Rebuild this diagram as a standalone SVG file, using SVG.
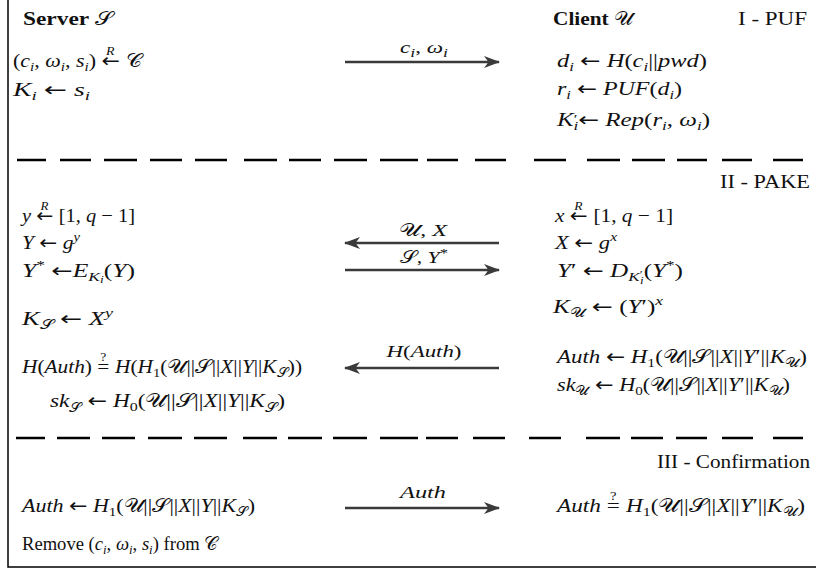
<svg xmlns="http://www.w3.org/2000/svg" width="816" height="572" viewBox="0 0 816 572">
<style>
.t{font-family:"Liberation Serif","DejaVu Serif",serif;font-size:19px;fill:#111}
.lb{font-family:"Liberation Serif","DejaVu Serif",serif;font-size:17px;fill:#111}
.i{font-style:italic}
.b{font-weight:bold}
.s{font-size:13px}
.ss{font-size:10px}
.sm{font-size:12px}
.c{font-family:"DejaVu Sans","Liberation Serif",serif;font-style:normal}
.ar{font-family:"DejaVu Sans",sans-serif;font-style:normal}
.dash{stroke:#000;stroke-width:2.5;fill:none}
.border{stroke:#000;stroke-width:1.5;fill:none}
.arr{stroke:#3a3a3a;stroke-width:2.5;fill:none}
.head{fill:#3a3a3a}
</style>
<defs>
<marker id="ah" viewBox="0 0 16 13" refX="15" refY="6.5" markerWidth="16" markerHeight="13" markerUnits="userSpaceOnUse" orient="auto-start-reverse">
<path class="head" d="M0,0.5 L16,6.5 L0,12.5 L4.5,6.5 Z"/>
</marker>
</defs>
<rect width="816" height="572" fill="#fff"/>
<g id="frame">
<path class="border" d="M8,0 V567 H816"/>
</g>
<g id="separators">
<path class="dash" d="M17,160H46M60,160H91M104,160H137M150,160H182M195,160H227M244,160H277M289,160H321M334,160H367M380,160H418M427,160H458M475,160H506M534,160H566M587,160H620M632,160H665M677,160H707M722,160H752M773,160H803"/>
<path class="dash" d="M16,438H45M57,438H90M102,438H135M148,438H182M194,438H227M243,438H277M288,438H322M333,438H367M380,438H418M426,438H458M473,438H505M529,438H561M586,438H620M631,438H663M676,438H707M722,438H753M773,438H803"/>
</g>
<g id="headers">
<text class="t b" x="23" y="25" textLength="90" lengthAdjust="spacingAndGlyphs">Server <tspan class="c i" font-weight="normal">𝒮</tspan></text>
<text class="t b" x="553" y="25" textLength="80" lengthAdjust="spacingAndGlyphs">Client <tspan class="c i" font-weight="normal">𝒰</tspan></text>
<text class="t" x="807" y="25" text-anchor="end" textLength="69" lengthAdjust="spacingAndGlyphs">I - PUF</text>
<text class="t" x="810" y="188" text-anchor="end" textLength="90" lengthAdjust="spacingAndGlyphs">II - PAKE</text>
<text class="t" x="810" y="468" text-anchor="end" textLength="153" lengthAdjust="spacingAndGlyphs">III - Confirmation</text>
</g>
<g id="server-puf">
<text class="t" x="13" y="67" textLength="129" lengthAdjust="spacingAndGlyphs">(<tspan class="i">c</tspan><tspan class="s i" dy="4">i</tspan><tspan dy="-4">, </tspan><tspan class="i">ω</tspan><tspan class="s i" dy="4">i</tspan><tspan dy="-4">, </tspan><tspan class="i">s</tspan><tspan class="s i" dy="4">i</tspan><tspan dy="-4">) </tspan><tspan class="ar">←</tspan><tspan class="sm i" dx="-12" dy="-12">R</tspan><tspan dx="5" dy="12"> </tspan><tspan class="c">𝒞</tspan></text>
<text class="t" x="13" y="96" textLength="77" lengthAdjust="spacingAndGlyphs"><tspan class="i">K</tspan><tspan class="s i" dy="4">i</tspan><tspan dy="-4"> </tspan><tspan class="ar">←</tspan> <tspan class="i">s</tspan><tspan class="s i" dy="4">i</tspan></text>
</g>
<g id="client-puf">
<text class="t" x="557" y="67" textLength="150" lengthAdjust="spacingAndGlyphs"><tspan class="i">d</tspan><tspan class="s i" dy="4">i</tspan><tspan dy="-4"> </tspan><tspan class="ar">←</tspan> <tspan class="i">H</tspan>(<tspan class="i">c</tspan><tspan class="s i" dy="4">i</tspan><tspan dy="-4">||</tspan><tspan class="i">pwd</tspan>)</text>
<text class="t" x="557" y="95" textLength="125" lengthAdjust="spacingAndGlyphs"><tspan class="i">r</tspan><tspan class="s i" dy="4">i</tspan><tspan dy="-4"> </tspan><tspan class="ar">←</tspan> <tspan class="i">PUF</tspan>(<tspan class="i">d</tspan><tspan class="s i" dy="4">i</tspan><tspan dy="-4">)</tspan></text>
<text class="t" x="557" y="126" textLength="153" lengthAdjust="spacingAndGlyphs"><tspan class="i">K</tspan><tspan class="s" dy="-3">′</tspan><tspan class="s i" dx="-3" dy="7">i</tspan><tspan class="ar" dy="-4">←</tspan> <tspan class="i">Rep</tspan>(<tspan class="i">r</tspan><tspan class="s i" dy="4">i</tspan><tspan dy="-4">, </tspan><tspan class="i">ω</tspan><tspan class="s i" dy="4">i</tspan><tspan dy="-4">)</tspan></text>
</g>
<g id="server-pake">
<text class="t" x="22" y="222" textLength="113" lengthAdjust="spacingAndGlyphs"><tspan class="i">y</tspan> <tspan class="ar">←</tspan><tspan class="sm i" dx="-12" dy="-12">R</tspan><tspan dx="5" dy="12"> [1, </tspan><tspan class="i">q</tspan> − 1]</text>
<text class="t" x="22" y="249" textLength="58" lengthAdjust="spacingAndGlyphs"><tspan class="i">Y</tspan> <tspan class="ar">←</tspan> <tspan class="i">g</tspan><tspan class="s i" dy="-8">y</tspan></text>
<text class="t" x="22" y="277" textLength="113" lengthAdjust="spacingAndGlyphs"><tspan class="i">Y</tspan><tspan class="s" dy="-8">*</tspan><tspan dy="8"> </tspan><tspan class="ar">←</tspan><tspan class="i">E</tspan><tspan class="s i" dy="4">K</tspan><tspan class="ss i" dy="2">i</tspan><tspan dy="-6">(</tspan><tspan class="i">Y</tspan>)</text>
<text class="t" x="22" y="325" textLength="91" lengthAdjust="spacingAndGlyphs"><tspan class="i">K</tspan><tspan class="s c" dy="4">𝒮</tspan><tspan dy="-4"> </tspan><tspan class="ar">←</tspan> <tspan class="i">X</tspan><tspan class="s i" dy="-8">y</tspan></text>
<text class="t" x="22" y="373" textLength="280" lengthAdjust="spacingAndGlyphs"><tspan class="i">H</tspan>(<tspan class="i">Auth</tspan>) =<tspan class="sm" dx="-8" dy="-12">?</tspan><tspan dx="3" dy="12"> </tspan><tspan class="i">H</tspan>(<tspan class="i">H</tspan><tspan class="s" dy="4">1</tspan><tspan dy="-4">(</tspan><tspan class="c">𝒰</tspan>||<tspan class="c">𝒮</tspan>||<tspan class="i">X</tspan>||<tspan class="i">Y</tspan>||<tspan class="i">K</tspan><tspan class="s c" dy="4">𝒮</tspan><tspan dy="-4">))</tspan></text>
<text class="t" x="50" y="407" textLength="235" lengthAdjust="spacingAndGlyphs"><tspan class="i">sk</tspan><tspan class="s c" dy="5">𝒮</tspan><tspan dy="-5"> </tspan><tspan class="ar">←</tspan> <tspan class="i">H</tspan><tspan class="s" dy="4">0</tspan><tspan dy="-4">(</tspan><tspan class="c">𝒰</tspan>||<tspan class="c">𝒮</tspan>||<tspan class="i">X</tspan>||<tspan class="i">Y</tspan>||<tspan class="i">K</tspan><tspan class="s c" dy="5">𝒮</tspan><tspan dy="-5">)</tspan></text>
</g>
<g id="client-pake">
<text class="t" x="555" y="222" textLength="118" lengthAdjust="spacingAndGlyphs"><tspan class="i">x</tspan> <tspan class="ar">←</tspan><tspan class="sm i" dx="-12" dy="-12">R</tspan><tspan dx="5" dy="12"> [1, </tspan><tspan class="i">q</tspan> − 1]</text>
<text class="t" x="555" y="249" textLength="62" lengthAdjust="spacingAndGlyphs"><tspan class="i">X</tspan> <tspan class="ar">←</tspan> <tspan class="i">g</tspan><tspan class="s i" dy="-8">x</tspan></text>
<text class="t" x="557" y="277" textLength="126" lengthAdjust="spacingAndGlyphs"><tspan class="i">Y</tspan>′ <tspan class="ar">←</tspan> <tspan class="i">D</tspan><tspan class="s i" dy="4">K</tspan><tspan class="ss" dy="-3">′</tspan><tspan class="ss i" dx="-2" dy="6">i</tspan><tspan dy="-7">(</tspan><tspan class="i">Y</tspan><tspan class="s" dy="-8">*</tspan><tspan dy="8">)</tspan></text>
<text class="t" x="553" y="313" textLength="110" lengthAdjust="spacingAndGlyphs"><tspan class="i">K</tspan><tspan class="s c" dy="4">𝒰</tspan><tspan dy="-4"> </tspan><tspan class="ar">←</tspan> (<tspan class="i">Y</tspan>′)<tspan class="s i" dy="-8">x</tspan></text>
<text class="t" x="557" y="363" textLength="250" lengthAdjust="spacingAndGlyphs"><tspan class="i">Auth</tspan> <tspan class="ar">←</tspan> <tspan class="i">H</tspan><tspan class="s" dy="4">1</tspan><tspan dy="-4">(</tspan><tspan class="c">𝒰</tspan>||<tspan class="c">𝒮</tspan>||<tspan class="i">X</tspan>||<tspan class="i">Y</tspan>′||<tspan class="i">K</tspan><tspan class="s c" dy="4">𝒰</tspan><tspan dy="-4">)</tspan></text>
<text class="t" x="557" y="391" textLength="233" lengthAdjust="spacingAndGlyphs"><tspan class="i">sk</tspan><tspan class="s c" dy="4">𝒰</tspan><tspan dy="-4"> </tspan><tspan class="ar">←</tspan> <tspan class="i">H</tspan><tspan class="s" dy="4">0</tspan><tspan dy="-4">(</tspan><tspan class="c">𝒰</tspan>||<tspan class="c">𝒮</tspan>||<tspan class="i">X</tspan>||<tspan class="i">Y</tspan>′||<tspan class="i">K</tspan><tspan class="s c" dy="4">𝒰</tspan><tspan dy="-4">)</tspan></text>
</g>
<g id="server-confirm">
<text class="t" x="22" y="512" textLength="233" lengthAdjust="spacingAndGlyphs"><tspan class="i">Auth</tspan> <tspan class="ar">←</tspan> <tspan class="i">H</tspan><tspan class="s" dy="4">1</tspan><tspan dy="-4">(</tspan><tspan class="c">𝒰</tspan>||<tspan class="c">𝒮</tspan>||<tspan class="i">X</tspan>||<tspan class="i">Y</tspan>||<tspan class="i">K</tspan><tspan class="s c" dy="4">𝒮</tspan><tspan dy="-4">)</tspan></text>
<text class="t" x="22" y="550" textLength="196" lengthAdjust="spacingAndGlyphs">Remove (<tspan class="i">c</tspan><tspan class="s i" dy="4">i</tspan><tspan dy="-4">, </tspan><tspan class="i">ω</tspan><tspan class="s i" dy="4">i</tspan><tspan dy="-4">, </tspan><tspan class="i">s</tspan><tspan class="s i" dy="4">i</tspan><tspan dy="-4">) from </tspan><tspan class="c">𝒞</tspan></text>
</g>
<g id="client-confirm">
<text class="t" x="557" y="512" textLength="248" lengthAdjust="spacingAndGlyphs"><tspan class="i">Auth</tspan> =<tspan class="sm" dx="-8" dy="-12">?</tspan><tspan dx="3" dy="12"> </tspan><tspan class="i">H</tspan><tspan class="s" dy="4">1</tspan><tspan dy="-4">(</tspan><tspan class="c">𝒰</tspan>||<tspan class="c">𝒮</tspan>||<tspan class="i">X</tspan>||<tspan class="i">Y</tspan>′||<tspan class="i">K</tspan><tspan class="s c" dy="4">𝒰</tspan><tspan dy="-4">)</tspan></text>
</g>
<g id="connectors">
<line class="arr" x1="345" y1="62" x2="499" y2="62" marker-end="url(#ah)"/>
<text class="lb" x="424" y="53" text-anchor="middle" textLength="48" lengthAdjust="spacingAndGlyphs"><tspan class="i">c</tspan><tspan class="s i" dy="4">i</tspan><tspan dy="-4">, </tspan><tspan class="i">ω</tspan><tspan class="s i" dy="4">i</tspan></text>
<line class="arr" x1="499" y1="243" x2="345" y2="243" marker-end="url(#ah)"/>
<text class="lb" x="423" y="236" text-anchor="middle" textLength="48" lengthAdjust="spacingAndGlyphs"><tspan class="c">𝒰</tspan>, <tspan class="i">X</tspan></text>
<line class="arr" x1="345" y1="270" x2="499" y2="270" marker-end="url(#ah)"/>
<text class="lb" x="424" y="263" text-anchor="middle" textLength="48" lengthAdjust="spacingAndGlyphs"><tspan class="c">𝒮</tspan>, <tspan class="i">Y</tspan><tspan class="s" dy="-6">*</tspan></text>
<line class="arr" x1="499" y1="368" x2="345" y2="368" marker-end="url(#ah)"/>
<text class="lb" x="424" y="357" text-anchor="middle" textLength="75" lengthAdjust="spacingAndGlyphs"><tspan class="i">H</tspan>(<tspan class="i">Auth</tspan>)</text>
<line class="arr" x1="345" y1="508" x2="499" y2="508" marker-end="url(#ah)"/>
<text class="lb i" x="423" y="498" text-anchor="middle" textLength="46" lengthAdjust="spacingAndGlyphs">Auth</text>
</g>
</svg>
